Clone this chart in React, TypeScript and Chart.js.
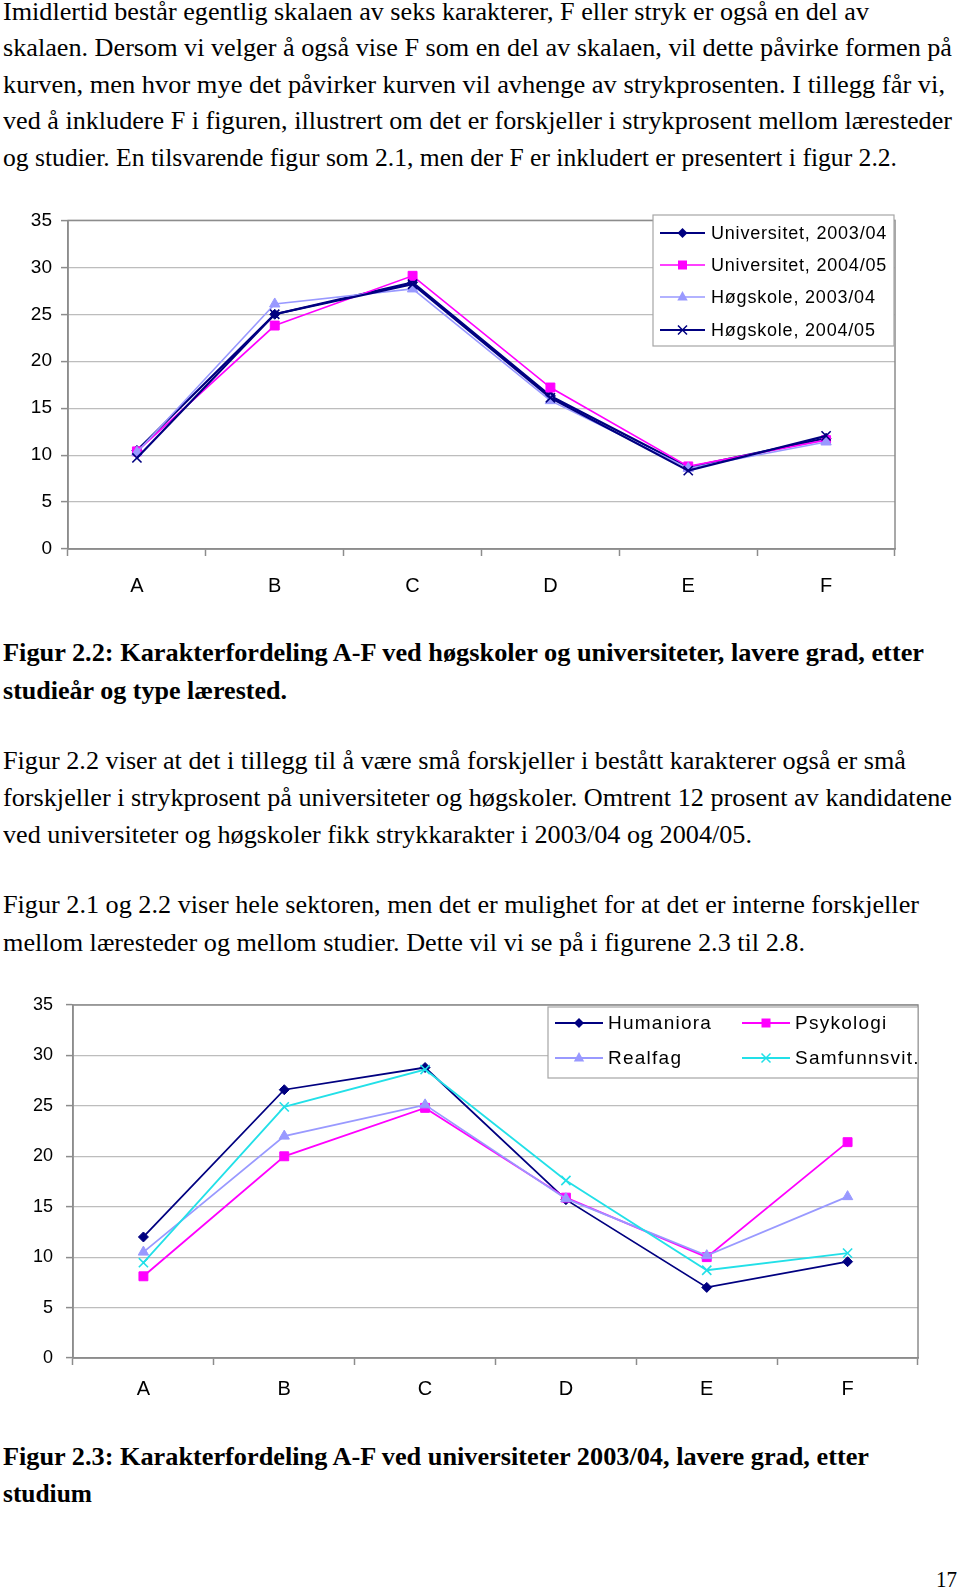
import React, { useEffect, useLayoutEffect, useRef } from 'react';
import { Chart, registerables } from 'chart.js';

Chart.register(...registerables);

// ---------- data ----------
const categories = ['A', 'B', 'C', 'D', 'E', 'F'];
const yTickValues = [0, 5, 10, 15, 20, 25, 30, 35];

// Figur 2.2
const fig22Labels = ['Universitet, 2003/04', 'Universitet, 2004/05', 'Høgskole, 2003/04', 'Høgskole, 2004/05'];
const uni0304 = [10.5, 25.0, 28.4, 16.3, 8.7, 11.8];
const uni0405 = [10.4, 23.8, 29.1, 17.2, 8.8, 11.6];
const hsk0304 = [10.3, 26.1, 27.7, 15.8, 8.6, 11.4];
const hsk0405 = [9.7, 25.0, 28.2, 16.1, 8.35, 12.05];

// Figur 2.3
const fig23Labels = ['Humaniora', 'Psykologi', 'Realfag', 'Samfunnsvit.'];
const humaniora = [12.0, 26.6, 28.8, 15.7, 7.0, 9.55];
const psykologi = [8.1, 20.0, 24.8, 15.9, 10.0, 21.4];
const realfag = [10.5, 22.0, 25.1, 15.8, 10.15, 16.0];
const samfunnsvit = [9.45, 24.9, 28.6, 17.6, 8.7, 10.4];

// ---------- styles ----------
const NAVY = '#000080';
const MAGENTA = '#FF00FF';
const PERI = '#9999FF';
const CYAN = '#22E0E8';
const SANS = "'Liberation Sans', Arial, sans-serif";
const SERIF = "'Liberation Serif', 'Times New Roman', serif";

type Marker = 'diamond' | 'square' | 'triangle' | 'cross';
const markerToPointStyle: Record<Marker, string> = {
  diamond: 'rectRot',
  square: 'rect',
  triangle: 'triangle',
  cross: 'crossRot',
};
const markerRadius: Record<Marker, number> = { diamond: 5, square: 6.3, triangle: 6, cross: 6.5 };

function drawMarker(ctx: CanvasRenderingContext2D, m: Marker, x: number, y: number, color: string) {
  ctx.save();
  ctx.fillStyle = color;
  ctx.strokeStyle = color;
  ctx.beginPath();
  if (m === 'diamond') {
    const r = 5;
    ctx.moveTo(x, y - r); ctx.lineTo(x + r, y); ctx.lineTo(x, y + r); ctx.lineTo(x - r, y); ctx.closePath(); ctx.fill();
  } else if (m === 'square') {
    ctx.rect(x - 4.5, y - 4.5, 9, 9); ctx.fill();
  } else if (m === 'triangle') {
    ctx.moveTo(x, y - 6); ctx.lineTo(x + 5.2, y + 3.5); ctx.lineTo(x - 5.2, y + 3.5); ctx.closePath(); ctx.fill();
  } else {
    const r = 4.5;
    ctx.lineWidth = 1.5;
    ctx.moveTo(x - r, y - r); ctx.lineTo(x + r, y + r); ctx.moveTo(x + r, y - r); ctx.lineTo(x - r, y + r); ctx.stroke();
  }
  ctx.restore();
}

interface SeriesSpec { label: string; data: number[]; color: string; marker: Marker; width: number; }
interface LegendItemSpec { row: number; lineX: number; }
interface ChartSpec {
  series: SeriesSpec[];
  yAxisWidth: number;
  xAxisHeight: number;
  padTop: number;
  padRight: number;
  yTickFont: number;
  yTickPad: number;
  xTickFont: number;
  xTickPad: number;
  legend: {
    box: [number, number, number, number];
    rows: number[];
    items: LegendItemSpec[];
    lineLen: number;
    textGap: number;
    font: number;
    spacing: number;
  };
}

function makePlugin(spec: ChartSpec) {
  return {
    id: 'pageDecor',
    beforeDatasetsDraw(chart: any) {
      const { ctx, chartArea } = chart;
      ctx.save();
      ctx.strokeStyle = '#8C8C8C';
      ctx.lineWidth = 1.5;
      ctx.strokeRect(chartArea.left, chartArea.top, chartArea.right - chartArea.left, chartArea.bottom - chartArea.top);
      ctx.restore();
    },
    afterDraw(chart: any) {
      const { ctx } = chart;
      const L = spec.legend;
      const [bx, by, bw, bh] = L.box;
      ctx.save();
      ctx.fillStyle = '#FFFFFF';
      ctx.fillRect(bx, by, bw, bh);
      ctx.strokeStyle = '#A6A6A6';
      ctx.lineWidth = 1.2;
      ctx.strokeRect(bx, by, bw, bh);
      ctx.beginPath();
      ctx.rect(bx, by, bw, bh);
      ctx.clip();
      spec.series.forEach((s, i) => {
        const it = L.items[i];
        const y = L.rows[it.row];
        ctx.strokeStyle = s.color;
        ctx.lineWidth = s.width;
        ctx.beginPath();
        ctx.moveTo(it.lineX, y);
        ctx.lineTo(it.lineX + L.lineLen, y);
        ctx.stroke();
        drawMarker(ctx, s.marker, it.lineX + L.lineLen / 2, y, s.color);
        ctx.fillStyle = '#000000';
        ctx.font = `${L.font}px ${SANS}`;
        (ctx as any).letterSpacing = `${L.spacing}px`;
        ctx.textBaseline = 'middle';
        ctx.textAlign = 'left';
        ctx.fillText(s.label, it.lineX + L.lineLen + L.textGap, y + 1);
      });
      ctx.restore();
    },
  };
}

function LineChart({ spec, top, height }: { spec: ChartSpec; top: number; height: number }) {
  const ref = useRef<HTMLCanvasElement>(null);
  useEffect(() => {
    if (!ref.current) return;
    const chart = new Chart(ref.current, {
      type: 'line',
      data: {
        labels: categories,
        datasets: spec.series.map((s, i) => ({
          label: s.label,
          data: s.data,
          borderColor: s.color,
          backgroundColor: s.color,
          borderWidth: s.width,
          pointStyle: markerToPointStyle[s.marker] as any,
          pointRadius: markerRadius[s.marker],
          pointHoverRadius: markerRadius[s.marker],
          pointBackgroundColor: s.color,
          pointBorderColor: s.color,
          pointBorderWidth: s.marker === 'cross' ? 1.6 : 1,
          tension: 0,
          fill: false,
          order: -i,
        })),
      },
      options: {
        animation: false,
        responsive: false,
        maintainAspectRatio: false,
        events: [],
        layout: { padding: { top: spec.padTop, right: spec.padRight, left: 0, bottom: 0 } },
        plugins: { legend: { display: false }, tooltip: { enabled: false }, title: { display: false } },
        scales: {
          x: {
            type: 'category',
            offset: true,
            afterFit: (s: any) => { s.height = spec.xAxisHeight; },
            grid: { display: true, drawOnChartArea: false, drawTicks: true, tickLength: 7, tickColor: '#8C8C8C', offset: true, tickWidth: 1.5 },
            border: { display: true, color: '#8C8C8C', width: 1.5 },
            ticks: { color: '#000000', font: { family: SANS, size: spec.xTickFont }, padding: spec.xTickPad, maxRotation: 0 },
          },
          y: {
            type: 'linear',
            min: 0,
            max: 35,
            afterFit: (s: any) => { s.width = spec.yAxisWidth; },
            afterBuildTicks: (s: any) => { s.ticks = yTickValues.map((v) => ({ value: v })); },
            grid: { color: '#BDBDBD', lineWidth: 1.2, drawTicks: true, tickLength: 7, tickColor: '#8C8C8C', tickWidth: 1.5 },
            border: { display: true, color: '#8C8C8C', width: 1.5 },
            ticks: { color: '#000000', font: { family: SANS, size: spec.yTickFont }, padding: spec.yTickPad },
          },
        },
      },
      plugins: [makePlugin(spec) as any],
    });
    return () => chart.destroy();
  }, [spec]);
  return (
    <canvas
      ref={ref}
      width={960}
      height={height}
      style={{ position: 'absolute', left: 0, top, width: 960, height }}
    />
  );
}

const spec22: ChartSpec = {
  series: [
    { label: fig22Labels[0], data: uni0304, color: NAVY, marker: 'diamond', width: 2.2 },
    { label: fig22Labels[1], data: uni0405, color: MAGENTA, marker: 'square', width: 1.6 },
    { label: fig22Labels[2], data: hsk0304, color: PERI, marker: 'triangle', width: 1.6 },
    { label: fig22Labels[3], data: hsk0405, color: NAVY, marker: 'cross', width: 2.2 },
  ],
  yAxisWidth: 68,
  xAxisHeight: 61,
  padTop: 18,
  padRight: 65,
  yTickFont: 19,
  yTickPad: 9,
  xTickFont: 20,
  xTickPad: 18,
  legend: {
    box: [653, 15, 241, 131],
    rows: [33, 65, 97, 130],
    items: [{ row: 0, lineX: 660 }, { row: 1, lineX: 660 }, { row: 2, lineX: 660 }, { row: 3, lineX: 660 }],
    lineLen: 45,
    textGap: 6,
    font: 18,
    spacing: 0.8,
  },
};

const spec23: ChartSpec = {
  series: [
    { label: fig23Labels[0], data: humaniora, color: NAVY, marker: 'diamond', width: 1.8 },
    { label: fig23Labels[1], data: psykologi, color: MAGENTA, marker: 'square', width: 1.8 },
    { label: fig23Labels[2], data: realfag, color: PERI, marker: 'triangle', width: 1.8 },
    { label: fig23Labels[3], data: samfunnsvit, color: CYAN, marker: 'cross', width: 1.8 },
  ],
  yAxisWidth: 73,
  xAxisHeight: 62,
  padTop: 25,
  padRight: 42,
  yTickFont: 18,
  yTickPad: 13,
  xTickFont: 20,
  xTickPad: 12,
  legend: {
    box: [548, 27, 370, 71],
    rows: [43, 78],
    items: [{ row: 0, lineX: 555 }, { row: 0, lineX: 742 }, { row: 1, lineX: 555 }, { row: 1, lineX: 742 }],
    lineLen: 48,
    textGap: 5,
    font: 19,
    spacing: 1.25,
  },
};

const TEXT_SIZE = 25.5;

function TextLine({ text, x, baseline, width, bold, size = TEXT_SIZE }: { text: string; x: number; baseline: number; width: number; bold?: boolean; size?: number }) {
  const ref = useRef<HTMLDivElement>(null);
  useLayoutEffect(() => {
    const el = ref.current;
    if (!el) return;
    el.style.transform = 'none';
    const w = el.getBoundingClientRect().width;
    if (w > 0) el.style.transform = `scaleX(${width / w})`;
  }, [text, width]);
  return (
    <div
      ref={ref}
      style={{
        position: 'absolute',
        left: x,
        top: baseline - size * 0.8375,
        fontFamily: SERIF,
        fontSize: size,
        lineHeight: `${size}px`,
        fontWeight: bold ? 700 : 400,
        whiteSpace: 'nowrap',
        transformOrigin: '0 0',
        color: '#000',
      }}
    >
      {text}
    </div>
  );
}

export default function App() {
  return (
    <div style={{ position: 'absolute', left: 0, top: 0, width: 960, height: 1593, background: '#fff', overflow: 'hidden' }}>
      <TextLine x={3} baseline={20} width={866} text="Imidlertid består egentlig skalaen av seks karakterer, F eller stryk er også en del av" />
      <TextLine x={3} baseline={56.5} width={949} text="skalaen. Dersom vi velger å også vise F som en del av skalaen, vil dette påvirke formen på" />
      <TextLine x={3} baseline={93} width={942} text="kurven, men hvor mye det påvirker kurven vil avhenge av strykprosenten. I tillegg får vi," />
      <TextLine x={3} baseline={129.5} width={949} text="ved å inkludere F i figuren, illustrert om det er forskjeller i strykprosent mellom læresteder" />
      <TextLine x={3} baseline={166} width={894} text="og studier.  En tilsvarende figur som 2.1, men der F er inkludert er presentert i figur 2.2." />

      <LineChart spec={spec22} top={200} height={410} />

      <TextLine bold x={3} baseline={661.5} width={921} text="Figur 2.2: Karakterfordeling A-F ved høgskoler og universiteter, lavere grad, etter" />
      <TextLine bold x={3} baseline={699} width={284} text="studieår og type lærested." />

      <TextLine x={3} baseline={769.5} width={903} text="Figur 2.2 viser at det i tillegg til å være små forskjeller i bestått karakterer også er små" />
      <TextLine x={3} baseline={806.5} width={949} text="forskjeller i strykprosent på universiteter og høgskoler. Omtrent 12 prosent av kandidatene" />
      <TextLine x={3} baseline={843.5} width={749} text="ved universiteter og høgskoler fikk strykkarakter i 2003/04 og 2004/05." />

      <TextLine x={3} baseline={913.5} width={916} text="Figur 2.1 og 2.2 viser hele sektoren, men det er mulighet for at det er interne forskjeller" />
      <TextLine x={3} baseline={951} width={802} text="mellom læresteder og mellom studier. Dette vil vi se på i figurene 2.3 til 2.8." />

      <LineChart spec={spec23} top={980} height={440} />

      <TextLine bold x={3} baseline={1465.5} width={866} text="Figur 2.3: Karakterfordeling A-F ved universiteter 2003/04, lavere grad, etter" />
      <TextLine bold x={3} baseline={1502.5} width={89} text="studium" />

      <TextLine x={936} baseline={1587.5} width={21} size={24} text="17" />
    </div>
  );
}
